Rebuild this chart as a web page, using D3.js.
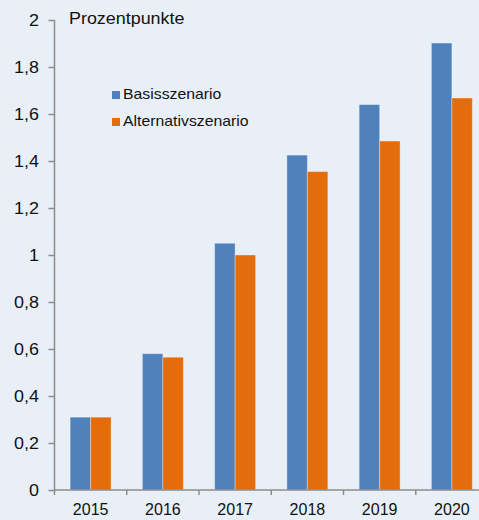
<!DOCTYPE html>
<html><head><meta charset="utf-8">
<script src="https://cdn.jsdelivr.net/npm/d3@7"></script>
<style>
html,body{margin:0;padding:0;background:#e9eff7;}
svg{display:block;font-family:"Liberation Sans",Arial,sans-serif;}
</style></head>
<body>
<svg id="c" width="479" height="520"></svg>
<script>
const years = ["2015","2016","2017","2018","2019","2020"];
const basis = [0.31, 0.58, 1.05, 1.425, 1.64, 1.902];
const alternativ = [0.31, 0.565, 1.0, 1.355, 1.485, 1.668];
const seriesNames = ["Basisszenario","Alternativszenario"];
const colors = ["#4f81bd","#e46c0a"];
const yTicks = [0,0.2,0.4,0.6,0.8,1,1.2,1.4,1.6,1.8,2];

(function(){
const svg = d3.select("#c");
const mL = 54.5, mR = 488, mT = 20, mB = 490;
const sx = 1.12;
const x0 = d3.scaleBand().domain(years).range([mL, mR]).paddingInner(0.433).paddingOuter(0.2165);
const x1 = d3.scaleBand().domain(seriesNames).range([0, x0.bandwidth()]);
const y = d3.scaleLinear().domain([0,2]).range([mB, mT]);
const fmt = d => d3.format(".1f")(d).replace(".", ",").replace(/,0$/, "");

const data = years.map((yr,i)=>({year:yr, vals:[basis[i], alternativ[i]]}));
const g = svg.append("g");
g.selectAll("g.grp").data(data).join("g").attr("class","grp")
  .attr("transform", d=>`translate(${x0(d.year)},0)`)
  .selectAll("rect").data(d=>d.vals.map((v,j)=>({v, name:seriesNames[j], c:colors[j]})))
  .join("rect")
  .attr("x", d=>x1(d.name)).attr("width", x1.bandwidth())
  .attr("y", d=>y(d.v)).attr("height", d=>y(0)-y(d.v))
  .attr("fill", d=>d.c)
  .attr("stroke","rgba(255,255,255,0.35)").attr("stroke-width",1);

const axColor = "#8c8c8c";
const ya = svg.append("g").attr("transform",`translate(${mL},0)`)
  .call(d3.axisLeft(y).tickValues(yTicks).tickFormat(fmt).tickSize(6).tickPadding(9));
ya.select(".domain").attr("stroke",axColor).attr("stroke-width",1.5).attr("d",`M0,${mT}V${mB}`);
ya.selectAll(".tick line").attr("stroke",axColor).attr("stroke-width",1.5);
ya.selectAll(".tick text").attr("fill","#111").attr("font-size",16)
  .attr("font-family","Liberation Sans, Arial, sans-serif")
  .attr("x",-15.5/sx).attr("transform",`scale(${sx},1)`);

const xa = svg.append("g").attr("transform",`translate(0,${mB})`)
  .call(d3.axisBottom(x0).tickSize(0).tickPadding(14));
xa.select(".domain").attr("stroke",axColor).attr("stroke-width",1.5).attr("d",`M${mL},0H${mR}`);
xa.selectAll(".tick text").attr("fill","#111").attr("font-size",16)
  .attr("font-family","Liberation Sans, Arial, sans-serif");
const step = x0.step();
xa.selectAll("line.b").data(d3.range(years.length+1)).join("line").attr("class","b")
  .attr("x1", i=>mL+i*step).attr("x2", i=>mL+i*step).attr("y1",0).attr("y2",5)
  .attr("stroke",axColor).attr("stroke-width",1.5);

svg.append("text").attr("transform",`translate(69,24) scale(${sx},1)`)
  .attr("font-size",16).attr("fill","#111").text("Prozentpunkte");

const lg = svg.append("g").selectAll("g").data(seriesNames).join("g")
  .attr("transform",(d,i)=>`translate(112,${91+i*27})`);
lg.append("rect").attr("width",8).attr("height",8).attr("fill",(d,i)=>colors[i]);
lg.append("text").attr("transform",`translate(11,8.3) scale(1.13,1)`)
  .attr("font-size",14).attr("fill","#111").text(d=>d);
})();
</script>
</body></html>
